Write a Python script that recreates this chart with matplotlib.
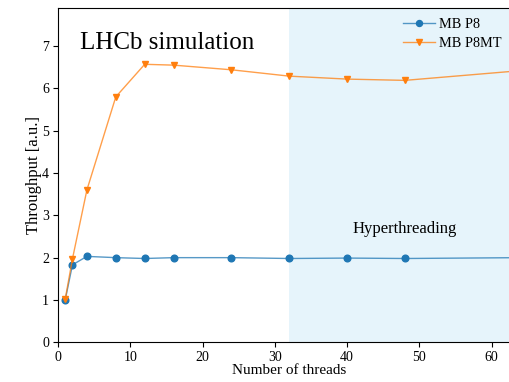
import matplotlib.pyplot as plt
import matplotlib.colors as mcolors

plt.rcParams['font.family'] = ['Liberation Serif', 'DejaVu Serif']

threads = [1, 2, 4, 8, 12, 16, 24, 32, 40, 48, 64]
mb_p8 = [1.0, 1.83, 2.03, 2.0, 1.98, 2.0, 2.0, 1.98, 1.99, 1.98, 2.0]
mb_p8mt = [1.02, 1.97, 3.6, 5.8, 6.57, 6.55, 6.44, 6.29, 6.22, 6.19, 6.42]
ht_start = 32

fig = plt.figure(figsize=(5.1, 3.82), dpi=100)
# axes runs a little past the right edge of the figure, like the cropped original
ax = fig.add_axes([0.1137, 0.104, 0.907, 0.875])

ax.axvspan(ht_start, 70, color='#e6f4fb', zorder=0, lw=0)

for y, marker, c, label in [(mb_p8, 'o', 'C0', 'MB P8'),
                            (mb_p8mt, 'v', 'C1', 'MB P8MT')]:
    line_col = mcolors.to_rgba(c, 0.75)
    ax.plot(threads, y, marker=marker, color=line_col, lw=1.0, ms=4.8,
            markerfacecolor=c, markeredgecolor=c, label=label)

ax.set_xlim(0, 64)
ax.set_ylim(0, 7.9)
ax.set_xticks(range(0, 61, 10))
ax.set_yticks(range(0, 8))
ax.tick_params(labelsize=10, direction='out', length=3.5, width=0.8, pad=3)
ax.spines['right'].set_visible(False)

ax.set_xlabel('Number of threads', fontsize=11, labelpad=0)
ax.set_ylabel('Throughput [a.u.]', fontsize=12, labelpad=0)

ax.text(3, 7.07, 'LHCb simulation', fontsize=18, va='center')
ax.text(48, 2.68, 'Hyperthreading', fontsize=12, ha='center', va='center')

ax.legend(loc='upper right', bbox_to_anchor=(1.0, 0.975), bbox_transform=fig.transFigure,
          frameon=False, fontsize=10.3, handlelength=2.2, handletextpad=0.3,
          labelspacing=0.4, borderaxespad=0.2, markerscale=0.9)

fig.savefig('out.png', dpi=100)
